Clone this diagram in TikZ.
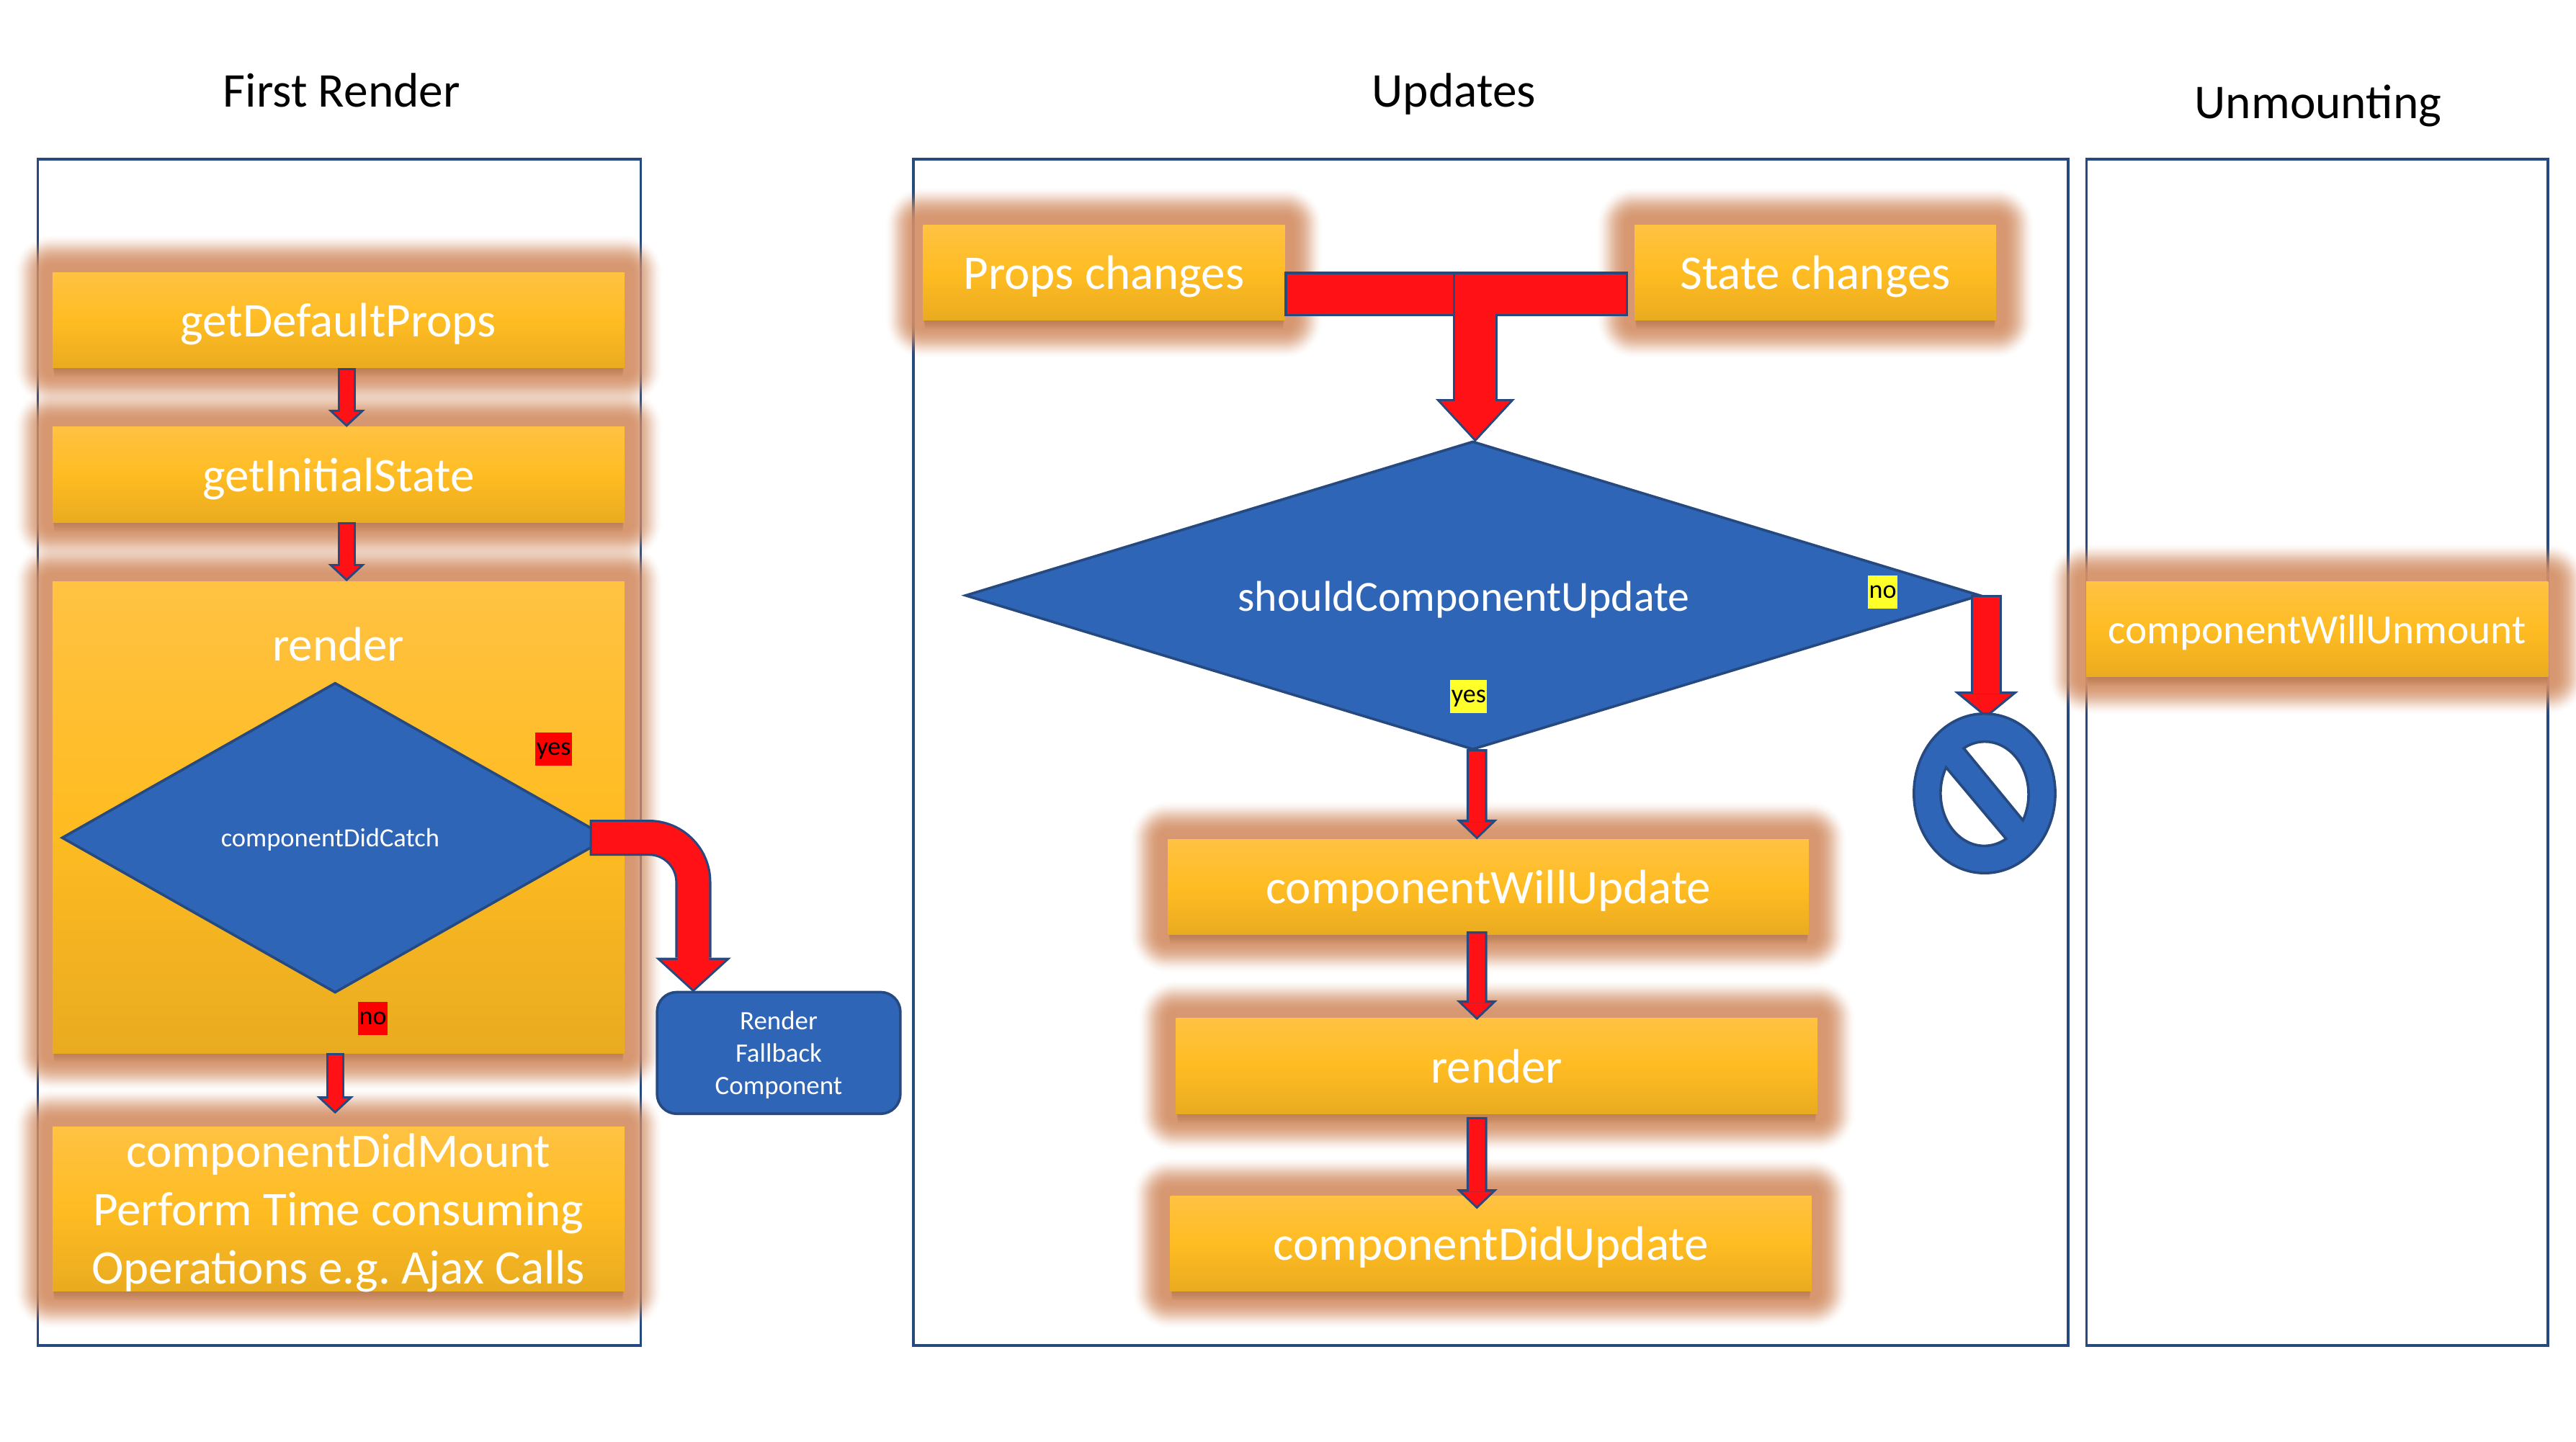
\documentclass[tikz,border=0pt]{standalone}
\usepackage{fontspec}
\setmainfont{Carlito}
\usetikzlibrary{arrows.meta, shapes.geometric}
\definecolor{boxtop}{HTML}{FFC243}
\definecolor{boxmid}{HTML}{FFBC22}
\definecolor{boxbot}{HTML}{E9AB20}
\definecolor{glowcol}{HTML}{D4926A}
\definecolor{undercol}{HTML}{8A5228}
\definecolor{shapeblue}{HTML}{2F65B7}
\definecolor{shapeline}{HTML}{264A80}
\definecolor{arrowred}{HTML}{FF1116}
\definecolor{tagyellow}{HTML}{FFFF2A}
\pgfdeclarelayer{frames}
\pgfdeclarelayer{glow}
\pgfsetlayers{frames,glow,main}
\tikzset{
	boxtext/.style={text=white, font=\fontsize{8.35}{10.1}\selectfont, align=center, text depth=0pt},
	flowbox/.style={boxtext, rectangle, inner sep=0pt, outer sep=0pt, top color=boxtop, bottom color=boxbot, middle color=boxmid},
	flowdiamond/.style={diamond, draw=shapeline, line width=0.45pt, fill=shapeblue, inner sep=0pt, outer sep=0pt},
	frameline/.style={draw=shapeline, line width=0.45pt},
	titletext/.style={text=black, font=\fontsize{8.4}{10}\selectfont, text depth=0pt},
	tagbox/.style={text=black, font=\fontsize{4.5}{5}\selectfont, inner xsep=0.2pt, inner ysep=0pt, minimum height=0.2cm, text depth=0pt},
	blockarrow/.style n args={5}{
		line cap=butt, line join=miter,
		preaction={draw=shapeline, line width=#1, shorten <=0pt, shorten >=0pt, -{Triangle[length=#3, width=#2, line width=0pt]}},
		draw=arrowred, line width=#1-0.028cm, shorten <=0.014cm, shorten >=0.018cm,
		-{Triangle[length=#5, width=#4, line width=0pt]}},
	thinarrow/.style={blockarrow={0.11cm}{0.225cm}{0.105cm}{0.158cm}{0.074cm}},
	midarrow/.style={blockarrow={0.126cm}{0.25cm}{0.12cm}{0.18cm}{0.087cm}},
	noarrow/.style={blockarrow={0.19cm}{0.39cm}{0.16cm}{0.31cm}{0.128cm}},
	curvearrow/.style={blockarrow={0.22cm}{0.46cm}{0.21cm}{0.388cm}{0.177cm}},
	teearrow/.style={blockarrow={0.27cm}{0.48cm}{0.26cm}{0.425cm}{0.23cm}}
}
\frenchspacing
\begin{document}
\begin{tikzpicture}[x=0.01cm, y=0.01cm]
	\useasboundingbox (0,0) rectangle (1568,-877.8);
	% column titles
	\node[titletext] (firsttitle) at (208,-55) {First Render};
	\node[titletext] (updatestitle) at (885,-55) {Updates};
	\node[titletext] (unmounttitle) at (1411,-62) {Unmounting};
	\begin{pgfonlayer}{frames}
		\draw[frameline] (23,-97) rectangle (390,-819);
		\draw[frameline] (556,-97) rectangle (1259,-819);
		\draw[frameline] (1270,-97) rectangle (1551,-819);
	\end{pgfonlayer}
	% first render
	\node[flowbox, minimum width=3.48cm, minimum height=0.58cm] (defaultprops) at (206,-195) {getDefaultProps};
	\node[flowbox, minimum width=3.48cm, minimum height=0.58cm] (initialstate) at (206,-289) {getInitialState};
	\node[flowbox, minimum width=3.48cm, minimum height=2.87cm] (renderbox) at (206,-497.5) {};
	\node[boxtext] (rendertitle) at (206,-392) {render};
	\node[flowbox, minimum width=3.48cm, minimum height=1cm] (didmount) at (206,-736) {componentDidMount\\Perform Time consuming\\Operations e.g. Ajax Calls};
	\node[flowdiamond, minimum width=3.32cm, minimum height=1.88cm] (catch) at (204,-510) {};
	\node[text=white, font=\fontsize{4.55}{5}\selectfont, text depth=0pt] (catchtext) at (201,-510) {componentDidCatch};
	\node[tagbox, fill=red] (catchyes) at (337,-456) {yes};
	\node[tagbox, fill=red] (catchno) at (227,-620) {no};
	\node[rectangle, rounded corners=0.12cm, draw=shapeline, line width=0.45pt, fill=shapeblue, text=white, minimum width=1.48cm, minimum height=0.74cm, inner sep=0pt, align=center, text depth=0pt, font=\fontsize{4.6}{5.65}\selectfont] (fallback) at (474,-641) {Render\\Fallback\\Component};
	\coordinate (catchout) at (359,-510);
	\coordinate (fallbackin) at (422,-604);
	% updates
	\node[flowbox, minimum width=2.2cm, minimum height=0.58cm] (props) at (672,-166) {Props changes};
	\node[flowbox, minimum width=2.2cm, minimum height=0.58cm] (state) at (1105,-166) {State changes};
	\node[flowdiamond, minimum width=6.17cm, minimum height=1.87cm] (update) at (896.5,-362.5) {};
	\node[text=white, font=\fontsize{7.45}{9}\selectfont, text depth=0pt] (updatetext) at (891,-363) {shouldComponentUpdate};
	\node[tagbox, fill=tagyellow] (updateno) at (1146,-360.5) {no};
	\node[tagbox, fill=tagyellow] (updateyes) at (894,-424) {yes};
	\node[flowbox, minimum width=3.9cm, minimum height=0.58cm] (willupdate) at (906,-540) {componentWillUpdate};
	\node[flowbox, minimum width=3.9cm, minimum height=0.58cm] (rendertwo) at (911,-649) {render};
	\node[flowbox, minimum width=3.9cm, minimum height=0.58cm] (didupdate) at (907.5,-757) {componentDidUpdate};
	\coordinate (propsout) at (782,-179);
	\coordinate (stateout) at (991,-179);
	\coordinate (noout) at (1209,-362);
	\coordinate (noin) at (1209,-437);
	% unmounting
	\node[flowbox, minimum width=2.81cm, minimum height=0.58cm, font=\fontsize{7.15}{9}\selectfont] (willunmount) at (1410.5,-383) {componentWillUnmount};
	% blurred surround of the boxes
	\begin{pgfonlayer}{glow}
		\foreach \b in {defaultprops,initialstate,renderbox,didmount,props,state,willupdate,rendertwo,didupdate,willunmount}{
			\foreach \g [evaluate=\g as \a using 0.006+(23-\g)*0.008] in {23,22.5,...,5}{
				\fill[glowcol, opacity=\a, rounded corners=\g*0.01cm] ([xshift=-\g*0.01cm,yshift=\g*0.01cm]\b.north west) rectangle ([xshift=\g*0.01cm,yshift=-\g*0.01cm]\b.south east);
			}
			\foreach \g in {1,...,6}{
				\fill[undercol, opacity=0.06] ([xshift=\g*0.002cm,yshift=-\g*0.009cm]\b.south west) rectangle ([xshift=-\g*0.002cm]\b.south east);
			}
		}
	\end{pgfonlayer}
	% block arrows
	\draw[thinarrow] ([xshift=0.05cm]defaultprops.south) -- ([xshift=0.05cm]initialstate.north);
	\draw[thinarrow] ([xshift=0.05cm]initialstate.south) -- ([xshift=0.05cm]renderbox.north);
	\draw[thinarrow] ([xshift=-0.02cm]renderbox.south) -- ([xshift=-0.02cm,yshift=0.08cm]didmount.north);
	\draw[curvearrow, rounded corners=0.27cm] (catchout) -| (fallbackin);
	\draw[teearrow] (propsout) -| ([xshift=0.015cm]update.north);
	\draw[teearrow] (stateout) -| ([xshift=0.015cm]update.north);
	\draw[midarrow] ([xshift=0.025cm]update.south) -- ([xshift=-0.07cm]willupdate.north);
	\draw[midarrow] ([xshift=-0.07cm,yshift=0.02cm]willupdate.south) -- ([xshift=-0.12cm,yshift=-0.01cm]rendertwo.north);
	\draw[midarrow] ([xshift=-0.12cm,yshift=-0.02cm]rendertwo.south) -- ([xshift=-0.085cm,yshift=-0.08cm]didupdate.north);
	\draw[noarrow] (noout) -- (noin);
	% no entry sign
	\node[ellipse, draw=shapeline, line width=0.45pt, fill=shapeblue, minimum width=0.86cm, minimum height=0.97cm, inner sep=0pt] (nosign) at (1208,-483) {};
	\filldraw[fill=white, draw=shapeline, line width=0.45pt] (1195.3,-455.5) arc[start angle=119, end angle=-29.5, x radius=26.6, y radius=32.1] -- cycle;
	\filldraw[fill=white, draw=shapeline, line width=0.45pt] (1184.6,-467.2) arc[start angle=150.8, end angle=300, x radius=26.6, y radius=32.1] -- cycle;
\end{tikzpicture}
\end{document}
